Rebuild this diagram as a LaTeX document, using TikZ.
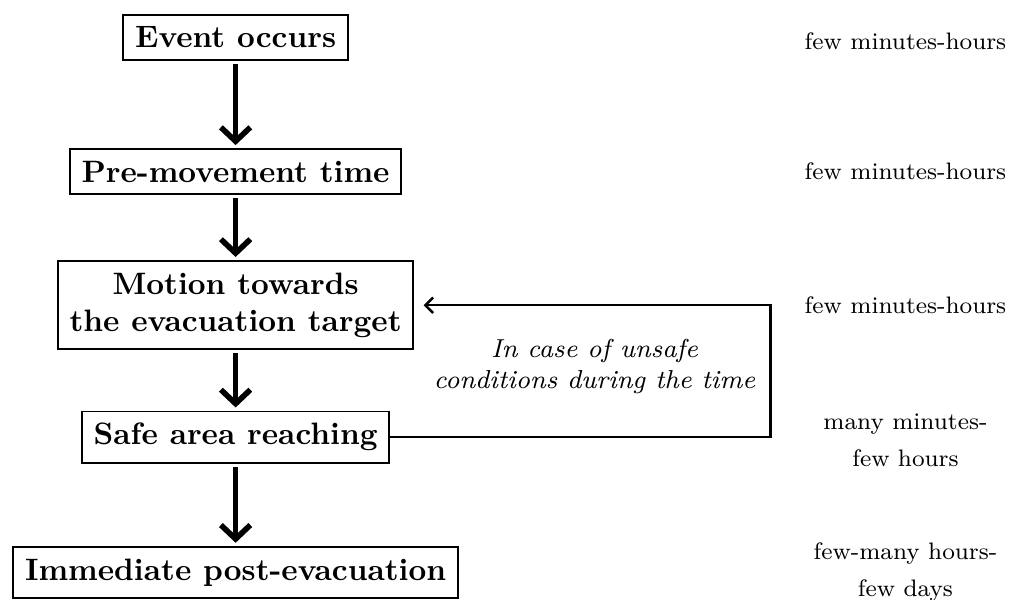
\documentclass[tikz,border=0pt]{standalone}
\usetikzlibrary{arrows.meta}

\begin{document}
\begin{tikzpicture}[
  stage/.style={draw,line width=0.6pt,inner sep=3.8pt,font=\bfseries,align=center},
  span/.style={font=\fontsize{7.7}{12}\selectfont,align=center},
  flow/.style={line width=1.8pt,-{Straight Barb[length=4.5pt,width=9.5pt]},shorten <=1pt,shorten >=1pt},
  back/.style={line width=0.8pt,-{Straight Barb[length=2.5pt,width=5pt]},shorten >=3pt}]
  \useasboundingbox (0,0) rectangle (11.49,-6.805);
  % phases
  \node[stage] (event) at (2.675,-0.426) {Event occurs};
  \node[stage] (pre) at (2.675,-1.948) {Pre-movement time};
  \node[stage] (motion) at (2.675,-3.465) {Motion towards\\the evacuation target};
  \node[stage] (safe) at (2.675,-4.964) {Safe area reaching};
  \node[stage] (post) at (2.675,-6.498) {Immediate post-evacuation};
  \draw[flow] (event) -- (pre);
  \draw[flow] (pre) -- (motion);
  \draw[flow] (motion) -- (safe);
  \draw[flow] (safe) -- (post);
  % loop back
  \coordinate (turn) at (8.747,-3.465);
  \draw[back] (safe.east) -| (turn) -- (motion.east);
  \node[font=\fontsize{8.4}{10}\selectfont\itshape,align=center] (unsafe) at (6.75,-4.158)
    {In case of unsafe\\conditions during the time};
  % durations
  \node[span] (t1) at (10.28,-0.466) {few minutes-hours};
  \node[span] (t2) at (10.28,-1.943) {few minutes-hours};
  \node[span] (t3) at (10.28,-3.465) {few minutes-hours};
  \node[span] (t4) at (10.28,-4.998) {many minutes-\\few hours};
  \node[span] (t5) at (10.28,-6.498) {few-many hours-\\few days};
\end{tikzpicture}
\end{document}
